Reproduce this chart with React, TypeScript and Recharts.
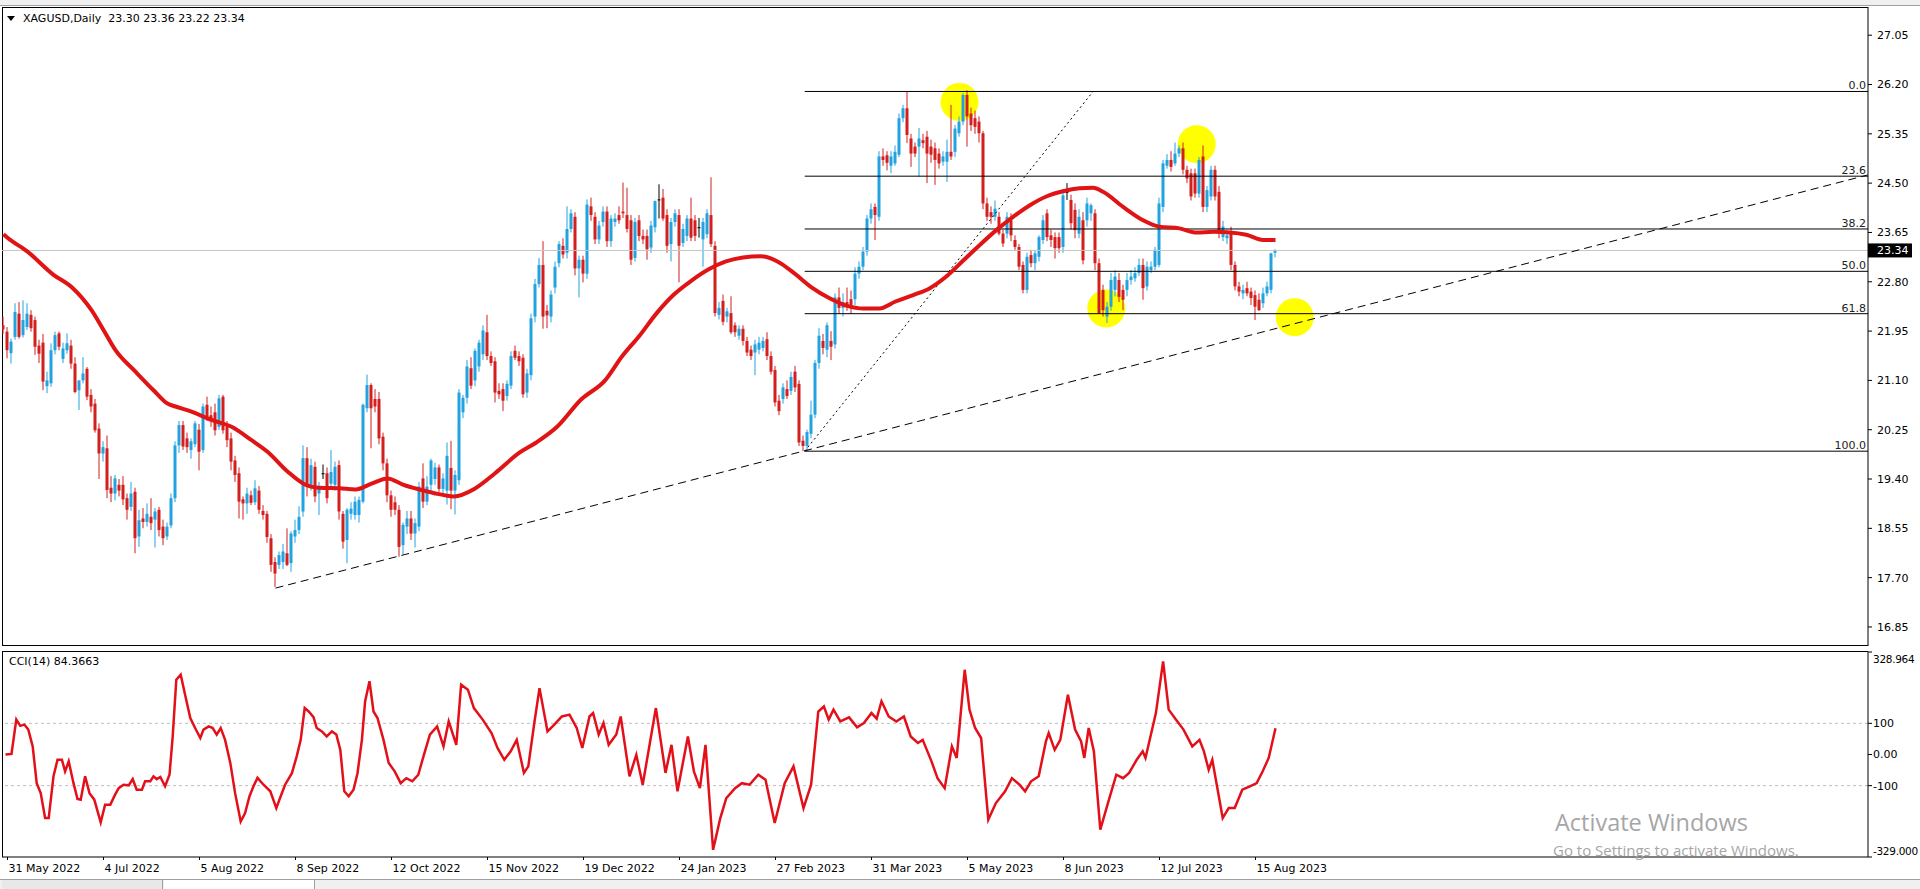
import React from 'react'
import { ComposedChart, LineChart, Bar, Line, XAxis, YAxis, ReferenceLine, ReferenceDot } from 'recharts'

const FONT = '"DejaVu Sans", Verdana, sans-serif'
const BULL = '#22a3e0'
const BEAR = '#d41f1f'

// daily bars, [open, high, low, close]
const candles: [number, number, number, number][] = [
  // 0-9
  [22.05,22.20,21.90,21.98],[21.94,22.02,21.48,21.62],[21.57,21.82,21.39,21.77],[21.85,22.43,21.80,22.28],[22.25,22.45,21.82,21.85],[21.88,22.48,21.84,22.14],[22.02,22.43,21.97,22.25],[22.23,22.31,21.94,22.00],[22.14,22.20,21.54,21.68],[21.70,21.80,21.40,21.56],
  // 10-19
  [21.75,21.90,20.93,21.08],[21.00,21.25,20.88,21.10],[21.05,21.74,20.99,21.62],[21.62,21.94,21.55,21.88],[21.91,21.94,21.62,21.68],[21.47,21.75,21.40,21.65],[21.62,21.91,21.56,21.74],[21.70,21.80,21.30,21.39],[21.39,21.50,20.88,20.90],[20.93,21.10,20.59,21.10],
  // 20-29
  [21.10,21.50,21.05,21.22],[21.30,21.33,20.76,20.82],[20.85,20.95,20.55,20.65],[20.70,20.78,20.20,20.24],[20.27,20.36,19.40,19.84],[19.84,20.05,19.70,19.95],[19.93,20.15,19.07,19.21],[19.25,19.45,19.00,19.15],[19.15,19.47,19.03,19.41],[19.30,19.40,19.10,19.20],
  // 30-39
  [19.30,19.45,18.95,19.05],[19.07,19.15,18.70,18.87],[18.92,19.35,18.85,19.15],[19.18,19.25,18.12,18.38],[18.41,18.87,18.23,18.69],[18.72,18.90,18.55,18.66],[18.66,18.98,18.58,18.80],[18.75,19.07,18.52,18.64],[18.70,18.90,18.22,18.84],[18.87,18.92,18.41,18.52],
  // 40-49
  [18.58,18.70,18.26,18.38],[18.41,18.65,18.35,18.58],[18.60,19.15,18.55,19.07],[19.07,20.05,19.00,19.98],[19.98,20.40,19.85,20.33],[20.33,20.40,19.90,19.96],[20.10,20.20,19.85,19.95],[19.90,20.10,19.75,20.05],[20.00,20.40,19.95,20.36],[20.25,20.35,19.55,19.87],
  // 50-59
  [19.90,20.70,19.85,20.65],[20.68,20.82,20.40,20.47],[20.50,20.65,20.30,20.42],[20.55,20.70,20.15,20.24],[20.30,20.85,20.25,20.79],[20.82,20.85,20.18,20.24],[20.30,20.40,19.95,20.07],[20.10,20.20,19.55,19.70],[19.72,19.80,19.35,19.47],[19.50,19.60,18.72,19.01],
  // 60-69
  [19.05,19.10,18.70,18.98],[18.98,19.25,18.80,19.15],[19.12,19.20,18.95,18.99],[19.00,19.38,18.95,19.24],[19.20,19.28,18.80,18.87],[18.85,18.95,18.70,18.78],[18.80,18.85,18.30,18.40],[18.38,18.45,17.80,17.92],[17.97,18.05,17.54,17.77],[17.92,18.15,17.85,18.09],
  // 70-79
  [17.97,18.28,17.85,18.15],[18.12,18.55,17.90,17.92],[17.95,18.50,17.80,18.46],[18.41,18.70,18.30,18.52],[18.52,18.93,18.45,18.75],[18.84,19.98,18.75,19.76],[19.76,19.95,19.10,19.27],[19.27,19.75,19.20,19.64],[19.61,19.70,19.00,19.10],[19.15,19.35,18.78,19.27],
  // 80-89
  [19.50,19.65,19.40,19.50],[19.50,19.60,18.98,19.07],[19.32,19.90,19.25,19.52],[19.30,19.70,19.20,19.61],[19.64,19.72,18.70,18.84],[18.80,18.85,18.20,18.32],[18.35,18.90,17.95,18.87],[18.80,19.00,18.70,18.89],[18.78,19.10,18.70,19.01],[18.78,19.10,18.65,19.04],
  // 90-99
  [19.01,20.70,18.98,20.68],[20.62,21.20,20.55,21.02],[21.02,21.05,19.93,20.62],[20.78,20.95,20.55,20.65],[20.78,20.90,20.00,20.10],[20.13,20.20,19.55,19.67],[19.67,19.75,19.00,19.12],[19.12,19.20,18.75,18.87],[19.00,19.10,18.78,18.87],[18.87,18.95,18.06,18.23],
  // 100-109
  [18.26,18.65,18.10,18.61],[18.58,18.85,18.45,18.72],[18.72,18.85,18.35,18.46],[18.46,18.72,18.22,18.64],[18.58,19.35,18.50,19.27],[19.41,19.67,18.90,19.01],[19.01,19.45,18.95,19.27],[19.30,19.75,19.20,19.72],[19.40,19.68,19.30,19.60],[19.60,19.65,19.18,19.23],
  // 110-119
  [19.23,19.50,19.15,19.41],[19.20,20.03,18.96,19.80],[19.59,20.06,18.88,19.20],[19.20,19.55,18.79,19.47],[19.38,20.95,19.30,20.89],[20.55,20.85,20.45,20.80],[20.80,21.45,20.70,21.34],[21.31,21.50,20.95,21.01],[21.10,21.65,21.00,21.61],[21.34,21.80,21.25,21.75],
  // 120-129
  [21.55,22.05,21.45,21.96],[21.93,22.23,21.45,21.52],[21.52,21.60,21.35,21.40],[21.43,21.50,20.72,20.89],[20.92,21.05,20.78,20.86],[20.95,21.05,20.57,20.75],[20.83,21.10,20.75,21.04],[21.01,21.60,20.95,21.52],[21.61,21.70,21.45,21.49],[21.52,21.60,21.35,21.43],
  // 130-139
  [21.49,21.55,20.80,20.86],[20.89,21.30,20.80,21.22],[21.19,22.25,21.10,22.17],[22.20,22.85,22.10,22.76],[22.76,23.21,22.70,23.09],[23.09,23.50,21.99,22.20],[22.30,22.40,22.00,22.22],[22.20,22.65,22.10,22.58],[22.70,23.15,22.60,23.06],[23.12,23.50,23.05,23.45],
  // 140-149
  [23.42,23.55,23.20,23.27],[23.30,24.10,23.20,23.71],[23.71,24.05,23.65,23.98],[23.92,24.00,22.91,23.03],[23.03,23.25,22.53,23.18],[23.18,23.25,22.79,22.94],[22.94,24.22,22.85,24.13],[24.10,24.25,23.85,23.95],[23.92,24.00,23.45,23.53],[23.53,23.85,23.45,23.77],
  // 150-159
  [23.83,24.10,23.75,24.01],[24.01,24.10,23.40,23.50],[23.50,23.95,23.40,23.89],[23.83,23.98,23.75,23.89],[23.95,24.10,23.80,23.86],[24.01,24.51,23.90,23.98],[23.95,24.42,23.65,23.71],[23.86,23.95,23.09,23.18],[23.21,23.90,23.15,23.83],[23.86,23.95,23.50,23.59],
  // 160-169
  [23.59,23.70,23.45,23.53],[23.59,23.70,23.18,23.36],[23.39,23.85,23.30,23.77],[23.74,24.20,23.65,24.19],[24.22,24.48,23.89,24.22],[24.25,24.40,23.85,23.89],[23.95,24.05,23.30,23.42],[23.45,23.90,23.15,23.83],[23.83,24.05,23.75,23.98],[23.95,24.05,22.79,23.42],
  // 170-179
  [23.47,23.80,23.40,23.71],[23.59,23.95,23.50,23.89],[23.89,24.25,23.50,23.56],[23.86,23.95,23.50,23.59],[23.74,23.90,23.56,23.74],[23.53,23.90,23.06,23.83],[23.62,24.05,23.55,23.98],[23.95,24.60,23.40,23.45],[23.42,23.50,22.20,22.26],[22.23,22.45,22.15,22.35],
  // 180-189
  [22.47,22.58,22.05,22.11],[22.20,22.35,22.10,22.29],[22.26,22.55,21.90,21.93],[22.05,22.10,21.85,21.93],[21.87,22.05,21.80,21.99],[21.99,22.05,21.70,21.78],[21.78,21.85,21.52,21.58],[21.63,21.70,21.45,21.52],[21.58,21.80,21.19,21.72],[21.63,21.85,21.55,21.75],
  // 190-199
  [21.66,21.85,21.60,21.78],[21.81,21.93,21.45,21.52],[21.52,21.60,21.20,21.25],[21.28,21.35,20.65,20.72],[20.75,20.85,20.50,20.57],[20.78,21.05,20.70,20.98],[20.95,21.10,20.78,20.83],[20.92,21.25,20.85,21.16],[21.25,21.35,20.90,20.98],[21.04,21.10,19.97,20.03],
  // 200-209
  [20.06,20.15,19.88,19.97],[19.97,20.25,19.88,20.21],[20.18,20.75,20.10,20.51],[20.51,21.45,20.45,21.40],[21.40,22.00,21.30,21.87],[21.78,21.90,21.55,21.66],[21.63,22.10,21.50,22.05],[21.78,21.95,21.45,21.68],[21.72,22.60,21.65,22.53],[22.53,22.70,22.25,22.35],
  // 210-219
  [22.35,22.60,22.20,22.45],[22.45,22.70,22.30,22.40],[22.50,22.65,22.25,22.35],[22.50,23.05,22.40,22.94],[22.94,23.15,22.85,23.06],[23.06,23.40,23.00,23.32],[23.32,23.95,23.25,23.89],[23.89,24.15,23.80,24.05],[24.09,24.15,23.52,23.95],[23.92,25.05,23.85,24.96],
  // 220-229
  [24.96,25.10,24.80,24.90],[24.98,25.05,24.72,24.85],[24.80,25.05,24.67,24.96],[24.84,25.15,24.80,25.04],[24.99,25.70,24.95,25.62],[25.62,25.85,25.55,25.79],[25.79,26.08,25.19,25.33],[25.27,25.35,24.78,25.01],[25.13,25.20,24.95,25.01],[25.13,25.45,24.61,25.27],
  // 230-239
  [25.24,25.35,25.10,25.19],[25.30,25.40,24.50,25.01],[25.13,25.25,24.85,24.99],[25.10,25.20,24.47,24.90],[25.01,25.10,24.75,24.84],[24.87,25.05,24.80,24.96],[24.87,25.25,24.52,25.04],[25.04,25.85,24.90,24.96],[25.04,25.50,24.95,25.44],[25.36,25.65,25.30,25.56],
  // 240-249
  [25.56,26.05,25.50,26.02],[26.02,26.10,25.13,25.65],[25.70,25.80,25.40,25.50],[25.62,25.75,25.35,25.47],[25.56,25.65,25.20,25.36],[25.36,25.40,24.05,24.15],[24.15,24.25,23.85,23.92],[24.00,24.10,23.80,23.92],[23.92,24.20,23.85,24.06],[23.92,24.00,23.60,23.63],
  // 250-259
  [23.63,23.70,23.40,23.46],[23.63,24.00,23.55,23.92],[23.86,23.98,23.50,23.60],[23.52,23.60,23.35,23.40],[23.40,23.45,23.00,23.06],[23.09,23.15,22.60,22.66],[22.66,23.30,22.60,23.23],[23.26,23.35,23.05,23.12],[23.12,23.35,23.00,23.29],[23.23,23.60,23.15,23.57],
  // 260-269
  [23.52,23.95,23.45,23.86],[23.98,24.05,23.50,23.57],[23.60,23.70,23.40,23.52],[23.57,23.65,23.20,23.38],[23.57,23.65,23.30,23.38],[23.40,24.40,23.30,24.29],[24.35,24.50,24.21,24.35],[24.21,24.30,23.70,23.81],[24.04,24.15,23.55,23.69],[23.63,24.05,23.55,23.92],
  // 270-279
  [23.86,24.00,23.10,23.17],[23.86,24.25,23.75,24.15],[23.98,24.15,23.85,24.12],[23.98,24.05,23.00,23.12],[23.12,23.20,22.25,22.26],[22.66,22.75,22.20,22.31],[22.20,22.45,22.09,22.37],[22.37,22.95,22.30,22.83],[22.66,23.00,22.55,22.89],[22.83,22.95,22.45,22.54],
  // 280-289
  [22.66,22.75,22.31,22.49],[22.66,22.95,22.55,22.83],[22.83,23.00,22.75,22.89],[22.86,23.05,22.80,22.95],[22.95,23.20,22.90,23.09],[23.09,23.20,22.49,22.69],[22.72,23.15,22.65,23.06],[23.00,23.15,22.95,23.06],[23.06,23.40,23.00,23.35],[23.09,24.25,23.05,24.15],
  // 290-299
  [24.09,24.90,24.00,24.84],[24.80,25.00,24.75,24.90],[24.90,25.05,24.70,24.78],[24.84,25.20,24.80,25.01],[25.01,25.15,24.95,25.10],[25.10,25.20,24.65,24.73],[24.73,24.80,24.50,24.58],[24.67,24.75,24.20,24.27],[24.67,24.75,24.25,24.32],[24.32,24.95,24.25,24.90],
  // 300-309
  [24.96,25.15,24.00,24.09],[24.09,24.45,24.00,24.38],[24.27,24.80,24.20,24.73],[24.73,24.80,24.20,24.27],[24.35,24.45,23.55,23.69],[23.57,23.85,23.50,23.75],[23.55,23.70,23.45,23.60],[23.66,23.75,23.00,23.09],[23.09,23.15,22.65,22.72],[22.72,22.80,22.55,22.63],
  // 310-318
  [22.60,22.75,22.50,22.66],[22.69,22.80,22.55,22.60],[22.63,22.70,22.40,22.52],[22.57,22.65,22.14,22.37],[22.49,22.60,22.30,22.31],[22.43,22.70,22.35,22.60],[22.60,22.80,22.55,22.72],[22.66,23.30,22.60,23.29],[23.30,23.36,23.22,23.34],
]

// moving average: [bar, price]
const maPoints: [number, number][] = [
  [0, 23.62], [1, 23.56], [6, 23.32], [12.5, 22.92], [17, 22.71], [22, 22.31], [25, 21.97], [28, 21.62], [33, 21.25],
  [37.5, 20.93], [41, 20.7], [43, 20.65], [47, 20.56], [52, 20.42], [57, 20.3], [62, 20.07], [66, 19.87], [71, 19.53],
  [75, 19.32], [79, 19.25], [84, 19.24], [88, 19.22], [92, 19.32], [96, 19.41], [100, 19.3], [104, 19.22], [107.5, 19.16],
  [112.6, 19.1], [117.7, 19.23], [122.9, 19.5], [128.9, 19.85], [133.2, 20.03], [138.4, 20.3], [144.4, 20.77], [150.4, 21.1],
  [154.7, 21.52], [159, 21.87], [163.3, 22.26], [167.6, 22.58], [172, 22.82], [176.2, 23.01], [180.6, 23.15], [184.9, 23.22],
  [189.2, 23.24], [193.5, 23.15], [197.8, 22.94], [202.1, 22.7], [206.4, 22.52], [210.7, 22.39], [215, 22.34], [219, 22.34],
  [223, 22.46], [227.4, 22.57], [231.6, 22.69], [235.7, 22.89], [240, 23.17], [244, 23.43], [248.2, 23.69], [252.4, 23.92],
  [256.6, 24.12], [260.7, 24.27], [264.9, 24.36], [269, 24.41], [272.4, 24.42], [274.9, 24.35], [279.9, 24.09], [284.9, 23.86],
  [289, 23.75], [294, 23.72], [298.2, 23.65], [302.4, 23.66], [306.6, 23.65], [310.7, 23.61], [314.9, 23.52], [318, 23.52],
]

// CCI(14): [bar, value]
const cciPoints: [number, number][] = [
  [0.5, 0], [2, 2], [3.2, 112], [4.2, 92], [5.2, 96], [6.2, 80], [7.3, 26], [8.3, -92], [9.3, -124], [10.4, -204], [11.3, -204],
  [12.5, -70], [13.5, -17], [14.6, -17], [15.4, -54], [16.3, -22], [17.5, -92], [18.5, -143], [19.3, -145], [20.4, -70], [21.5, -124],
  [22.7, -145], [24.3, -218], [25.4, -161], [26.7, -161], [27.9, -129], [28.8, -108], [30, -97], [31.3, -99], [32.3, -79], [33.3, -113],
  [34.6, -113], [35.4, -86], [36.7, -86], [37.5, -70], [38.3, -79], [39.2, -72], [40.4, -102], [41.5, -65], [42.3, 58], [43.2, 240],
  [44.3, 256], [45.4, 192], [46.7, 117], [47.9, 85], [49.2, 53], [50, 80], [51.3, 90], [52.3, 85], [53.3, 64], [54.3, 85], [55.4, 47],
  [56.7, -27], [57.9, -124], [59.3, -215], [60.4, -188], [61.5, -134], [62.5, -102], [63.5, -75], [65, -97], [66.7, -118], [68.2, -172],
  [69.3, -134], [70.4, -97], [72.1, -60], [73.3, -6], [74.3, 47], [75.3, 149], [76.3, 138], [77.5, 120], [78.3, 85], [79.6, 74],
  [80.8, 58], [82.1, 74], [83.2, 64], [84.2, 15], [85.2, -118], [86.3, -134], [87.5, -113], [88.5, -60], [89.6, 47], [90.4, 170],
  [91.5, 235], [92.5, 138], [93.5, 117], [95, 47], [96.3, -27], [97.8, -54], [99.3, -92], [100.7, -76], [102.2, -86], [103.7, -65],
  [105.1, -1], [106.6, 64], [108.4, 90], [110, 26], [111.3, 106], [113.2, 31], [114.4, 224], [116.1, 208], [117.6, 149], [119.8, 112],
  [122, 69], [123.5, 21], [125.2, -17], [126.8, 10], [128.3, 47], [130.1, -59], [131.2, -38], [132.7, 101], [134, 213], [136, 74],
  [137.7, 96], [139.6, 122], [141.5, 128], [143.3, 85], [144.7, 21], [146.5, 122], [147.4, 133], [148.8, 64], [150, 101], [151.3, 31],
  [153.2, 64], [154.3, 122], [156.5, -70], [158.2, -1], [159.8, -97], [163.1, 149], [165.5, -59], [167, 31], [168.5, -118], [171.1, 58],
  [172.6, -54], [174.1, -108], [175.5, 31], [177.4, -306], [179.2, -204], [180.7, -140], [182.9, -108], [184.6, -92], [186.5, -97],
  [188.7, -65], [190.5, -81], [192.8, -220], [195.3, -92], [197.5, -38], [200, -172], [201.9, -97], [203.7, 138], [205.1, 154],
  [206.3, 112], [207.5, 144], [209.2, 106], [211.4, 119], [213.4, 87], [215.1, 101], [217, 133], [218.3, 115], [219.5, 171],
  [221.3, 122], [223.2, 106], [225.1, 122], [226.8, 58], [228.6, 37], [229.8, 47], [232, -22], [233.5, -76], [235.3, -108], [237.1, 26],
  [238.3, -11], [240.3, 272], [241.5, 144], [242.9, 85], [244.4, 53], [246.2, -209], [248.1, -156], [250.4, -118], [252.1, -76],
  [254, -97], [255.4, -118], [256.9, -86], [258.8, -70], [260.6, 42], [261.3, 69], [262.8, 15], [264.2, 47], [266.1, 192], [267.9, 80],
  [269.4, 42], [270.2, -11], [271.3, 85], [272.6, 10], [274.2, -241], [276, -161], [278.2, -65], [279.9, -76], [281.4, -59], [283.3, -17],
  [284.8, 10], [285.5, -11], [288.1, 133], [289.9, 299], [291.3, 144], [293.1, 112], [295, 80], [297.2, 26], [299, 47], [300.1, 10],
  [301.3, -49], [302.2, -17], [304.8, -204], [306.3, -172], [307.8, -172], [309.7, -113], [311.6, -102], [313.3, -92], [314.8, -54],
  [316.3, -11], [318, 84],
]

const priceTicks = [27.05, 26.2, 25.35, 24.5, 23.65, 22.8, 21.95, 21.1, 20.25, 19.4, 18.55, 17.7, 16.85]
const cciTicks = [328.964, 100, 0, -100, -329]
const cciTickLabels = ['328.964', '100', '0.00', '-100', '-329.000']
const dateTickIdx = [1, 25, 49, 73, 97, 121, 145, 169, 193, 217, 241, 265, 289, 313]
const dateTickLabels = ['31 May 2022', '4 Jul 2022', '5 Aug 2022', '8 Sep 2022', '12 Oct 2022', '15 Nov 2022', '19 Dec 2022',
  '24 Jan 2023', '27 Feb 2023', '31 Mar 2023', '5 May 2023', '8 Jun 2023', '12 Jul 2023', '15 Aug 2023']

const fibLevels = [26.08, 24.62, 23.71, 22.98, 22.25, 19.88]
const fibLabels = ['0.0', '23.6', '38.2', '50.0', '61.8', '100.0']
const fibAnchor = { from: [200.3, 19.88], to: [272.4, 26.08] }
const trendLine = { from: [68, 17.52], to: [466, 24.64] }
const circles: [number, number][] = [[239, 25.9], [298.3, 25.17], [275.7, 22.34], [322.8, 22.19]]
const lastPrice = 23.34

const X_DOMAIN = [-0.375, 466.125]
const P_DOMAIN = [16.522, 27.536]
const C_DOMAIN = [-329, 328.964]

const rows = candles.map(([o, h, l, c], i) => ({ i, o, h, l, c }))
const maRows = maPoints.map(([i, v]) => ({ i, v }))
const cciRows = cciPoints.map(([i, v]) => ({ i, v }))

const Candle = (props: any) => {
  const { x, y, width, height, payload } = props
  if (x == null || !payload) return null
  const { o, h, l, c } = payload
  const cx = x + width / 2
  const k = h === l ? 0 : height / (h - l)
  const yo = y + (h - o) * k
  const yc = y + (h - c) * k
  const col = c > o ? BULL : c < o ? BEAR : '#000'
  const top = Math.min(yo, yc)
  const bh = Math.max(1, Math.abs(yc - yo))
  return (
    <g>
      <line x1={cx} x2={cx} y1={y} y2={y + height} stroke={col} strokeWidth={1} />
      <rect x={cx - 1.5} y={top} width={3} height={bh} fill={col} />
    </g>
  )
}

const PriceTag = (props: any) => {
  const vb = props.viewBox
  if (!vb) return null
  const x = vb.x + vb.width
  return (
    <g>
      <rect x={x} y={vb.y - 7} width={44} height={14} fill="#000" />
      <text x={x + 9} y={vb.y} dy="0.36em" fill="#fff" fontSize={11} fontFamily={FONT}>{lastPrice.toFixed(2)}</text>
    </g>
  )
}

const DateTick = (props: any) => {
  const { x, y, payload } = props
  const k = dateTickIdx.indexOf(payload.value)
  return <text x={x + 1} y={y + 10} fontSize={11} fontFamily={FONT} fill="#000">{dateTickLabels[k]}</text>
}

const CciTick = (props: any) => {
  const { x, y, payload } = props
  const k = cciTicks.indexOf(payload.value)
  const edge = k === 0 || k === cciTicks.length - 1
  const dy = k === 0 ? 7 : edge ? -6 : 0
  return (
    <text x={x} y={y + dy} dy="0.36em" fontSize={edge ? 10.5 : 11} letterSpacing={edge ? -0.3 : 0} fontFamily={FONT} fill="#000">
      {cciTickLabels[k]}
    </text>
  )
}

const tickText = { fontSize: 11, fontFamily: FONT, fill: '#000' }
const abs = (extra: React.CSSProperties): React.CSSProperties => ({ position: 'absolute', ...extra })

export default function App() {
  return (
    <div style={abs({ left: 0, top: 0, width: 1920, height: 889, background: '#fff', overflow: 'hidden', fontFamily: FONT })}>
      {/* window chrome */}
      <div style={abs({ left: 0, top: 0, width: 1920, height: 5, background: '#f0f0f0', borderBottom: '1px solid #a0a0a0' })} />
      <div style={abs({ left: 2, top: 7, width: 1866, height: 639, borderTop: '1px solid #000', borderLeft: '1px solid #000', borderBottom: '1px solid #000', boxSizing: 'border-box' })} />
      <div style={abs({ left: 2, top: 651, width: 1866, height: 206, borderTop: '1px solid #000', borderLeft: '1px solid #000', boxSizing: 'border-box' })} />
      <div style={abs({ left: 0, top: 879, width: 1920, height: 10, background: '#f0f0f0', borderTop: '1px solid #a0a0a0' })} />
      <div style={abs({ left: 2, top: 880, width: 160, height: 9, background: '#e8e8e8', borderRight: '1px solid #a0a0a0' })} />
      <div style={abs({ left: 164, top: 880, width: 150, height: 9, background: '#fff', borderRight: '1px solid #a0a0a0' })} />

      {/* yellow marks, drawn under the candles */}
      <div style={abs({ left: 0, top: 0 })}>
        <LineChart width={1920} height={646} data={rows} margin={{ top: 7, right: 52, bottom: 0, left: 2 }}>
          <XAxis dataKey="i" type="number" domain={X_DOMAIN} hide allowDataOverflow />
          <YAxis domain={P_DOMAIN} hide allowDataOverflow />
          {circles.map(([x, y], n) => (
            <ReferenceDot key={n} x={x} y={y} r={19} fill="#ffff00" stroke="none" />
          ))}
        </LineChart>
      </div>

      {/* price panel */}
      <div style={abs({ left: 0, top: 0 })}>
        <ComposedChart width={1920} height={646} data={rows} margin={{ top: 7, right: 0, bottom: 0, left: 2 }}>
          <XAxis dataKey="i" type="number" domain={X_DOMAIN} hide allowDataOverflow />
          <YAxis orientation="right" width={52} domain={P_DOMAIN} ticks={priceTicks} interval={0} allowDataOverflow
            tick={tickText} tickSize={4} tickMargin={5} tickFormatter={(v: number) => v.toFixed(2)}
            axisLine={{ stroke: '#000' }} tickLine={{ stroke: '#000' }} />
          <ReferenceLine y={lastPrice} stroke="#c4c4c4" label={<PriceTag />} />
          {fibLevels.map((p, n) => (
            <ReferenceLine key={n} segment={[{ x: fibAnchor.from[0], y: p }, { x: X_DOMAIN[1], y: p }]} stroke="#000" strokeWidth={1}
              label={{ value: fibLabels[n], position: 'insideBottomRight', offset: 2, fontSize: 11, fontFamily: FONT, fill: '#222' }} />
          ))}
          <ReferenceLine segment={[{ x: fibAnchor.from[0], y: fibAnchor.from[1] }, { x: fibAnchor.to[0], y: fibAnchor.to[1] }]}
            stroke="#000" strokeDasharray="2 3" />
          <ReferenceLine segment={[{ x: trendLine.from[0], y: trendLine.from[1] }, { x: trendLine.to[0], y: trendLine.to[1] }]}
            stroke="#000" strokeDasharray="8 5" />
          <Bar dataKey={(d: any) => [d.l, d.h]} barSize={3} isAnimationActive={false} shape={<Candle />} />
        </ComposedChart>
      </div>

      {/* moving average overlay */}
      <div style={abs({ left: 0, top: 0 })}>
        <LineChart width={1920} height={646} data={maRows} margin={{ top: 7, right: 52, bottom: 0, left: 2 }}>
          <XAxis dataKey="i" type="number" domain={X_DOMAIN} hide allowDataOverflow />
          <YAxis domain={P_DOMAIN} hide allowDataOverflow />
          <Line dataKey="v" type="monotone" stroke="#e01414" strokeWidth={4} dot={false} isAnimationActive={false} />
        </LineChart>
      </div>

      {/* CCI panel */}
      <div style={abs({ left: 0, top: 0 })}>
        <LineChart width={1920} height={889} data={cciRows} margin={{ top: 652, right: 0, bottom: 12, left: 2 }}>
          <XAxis dataKey="i" type="number" domain={X_DOMAIN} ticks={dateTickIdx} interval={0} height={20} allowDataOverflow
            tick={<DateTick />} tickSize={3} axisLine={{ stroke: '#000' }} tickLine={{ stroke: '#000' }} />
          <YAxis orientation="right" width={52} domain={C_DOMAIN} ticks={cciTicks} interval={0} allowDataOverflow
            tick={<CciTick />} tickSize={4} tickMargin={1} axisLine={{ stroke: '#000' }} tickLine={{ stroke: '#000' }} />
          <ReferenceLine y={100} stroke="#bdbdbd" strokeDasharray="3 3" />
          <ReferenceLine y={-100} stroke="#bdbdbd" strokeDasharray="3 3" />
          <Line dataKey="v" type="linear" stroke="#e3101a" strokeWidth={2.5} dot={false} isAnimationActive={false} />
        </LineChart>
      </div>

      {/* texts */}
      <svg style={abs({ left: 7, top: 16 })} width={8} height={6}><path d="M0 0 L8 0 L4 5 Z" fill="#000" /></svg>
      <div style={abs({ left: 23, top: 12, fontSize: 11, color: '#000', whiteSpace: 'pre' })}>XAGUSD,Daily  23.30 23.36 23.22 23.34</div>
      <div style={abs({ left: 9, top: 655, fontSize: 11, color: '#000' })}>CCI(14) 84.3663</div>
      <div style={abs({ left: 1555, top: 806, fontSize: 23.5, color: '#a6a6a6', fontFamily: '"Open Sans", sans-serif' })}>Activate Windows</div>
      <div style={abs({ left: 1553, top: 840, fontSize: 15, color: '#a6a6a6', fontFamily: '"Open Sans", sans-serif' })}>Go to Settings to activate Windows.</div>
    </div>
  )
}
